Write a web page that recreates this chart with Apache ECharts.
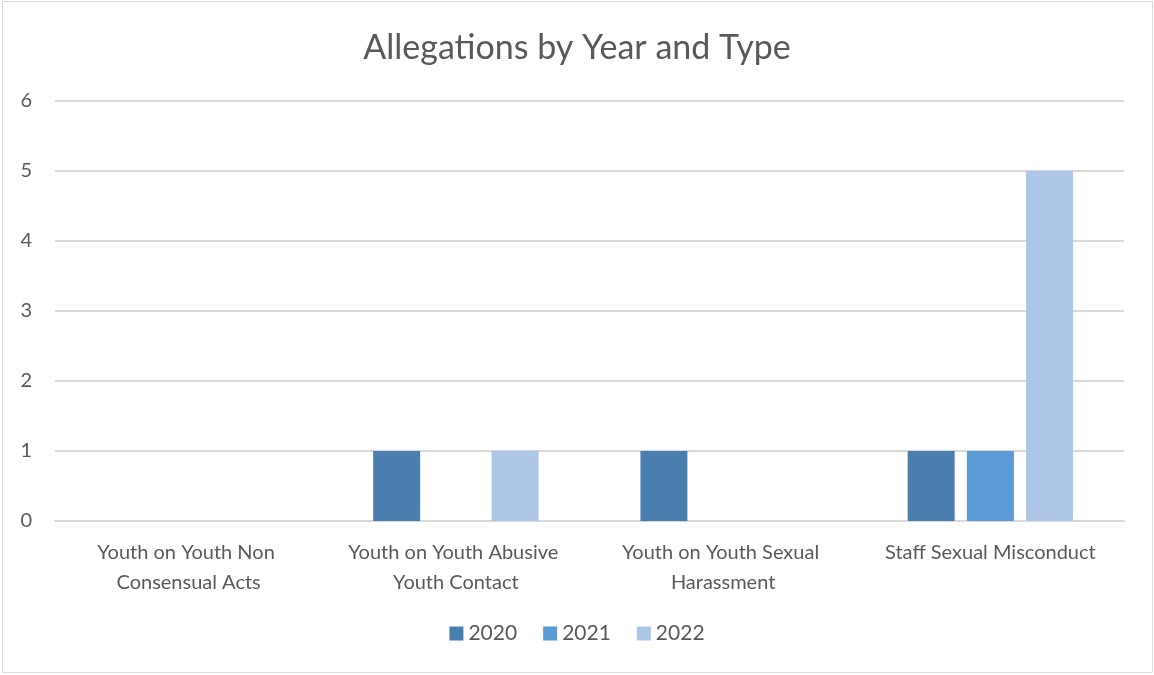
<!DOCTYPE html>
<html lang="en">
<head>
<meta charset="UTF-8">
<style>
  html, body { height: 100%; margin: 0; background: #fff; }
</style>
</head>
<body>
<div id="chart" style="width:1154px;height:675px;"></div>
<script src="https://cdn.jsdelivr.net/npm/echarts@6/dist/echarts.min.js"></script>
<script>
var categories = [
    'Youth on Youth Non Consensual Acts',
    'Youth on Youth Abusive Youth Contact',
    'Youth on Youth Sexual Harassment',
    'Staff Sexual Misconduct'
];
var years = ['2020', '2021', '2022'];
var v2020 = [0, 1, 1, 1];
var v2021 = [0, 0, 0, 1];
var v2022 = [0, 1, 0, 5];
var yTicks = [0, 1, 2, 3, 4, 5, 6];

var colors = ['#4a7eaf', '#5b9bd5', '#adc6e5'];
var font = 'Lato, "Open Sans", sans-serif';
var textColor = '#595959';

var myChart = echarts.init(document.getElementById('chart'));

myChart.setOption({
    color: colors,
    textStyle: { fontFamily: font },
    title: {
        text: 'Allegations by Year and Type',
        left: 'center',
        top: 26,
        textStyle: { fontFamily: font, fontSize: 34, fontWeight: 'normal', color: textColor }
    },
    graphic: [{
        type: 'rect',
        shape: { x: 2.5, y: 1.5, width: 1150, height: 671 },
        style: { fill: 'none', stroke: '#d9d9d9', lineWidth: 1 },
        silent: true
    }],
    legend: {
        data: years,
        bottom: 26,
        left: 'center',
        itemWidth: 14,
        itemHeight: 14,
        itemGap: 26,
        icon: 'rect',
        textStyle: { fontFamily: font, fontSize: 21, color: textColor }
    },
    grid: {
        left: 55,
        right: 30,
        top: 101,
        bottom: 154
    },
    xAxis: {
        type: 'category',
        data: categories,
        axisLine: { lineStyle: { color: '#d9d9d9', width: 2 } },
        axisTick: { show: false },
        axisLabel: {
            fontFamily: font,
            fontSize: 20,
            color: textColor,
            width: 240,
            overflow: 'break',
            lineHeight: 30,
            margin: 17,
            interval: 0
        }
    },
    yAxis: {
        type: 'value',
        min: yTicks[0],
        max: yTicks[yTicks.length - 1],
        interval: 1,
        axisLine: { show: false },
        axisTick: { show: false },
        splitLine: { lineStyle: { color: '#d9d9d9', width: 2 } },
        axisLabel: {
            fontFamily: font,
            fontSize: 20,
            color: textColor,
            margin: 23
        }
    },
    series: [
        { name: years[0], type: 'bar', data: v2020, barWidth: 47, barGap: '26%' },
        { name: years[1], type: 'bar', data: v2021, barWidth: 47, barGap: '26%' },
        { name: years[2], type: 'bar', data: v2022, barWidth: 47, barGap: '26%' }
    ]
});
</script>
</body>
</html>
